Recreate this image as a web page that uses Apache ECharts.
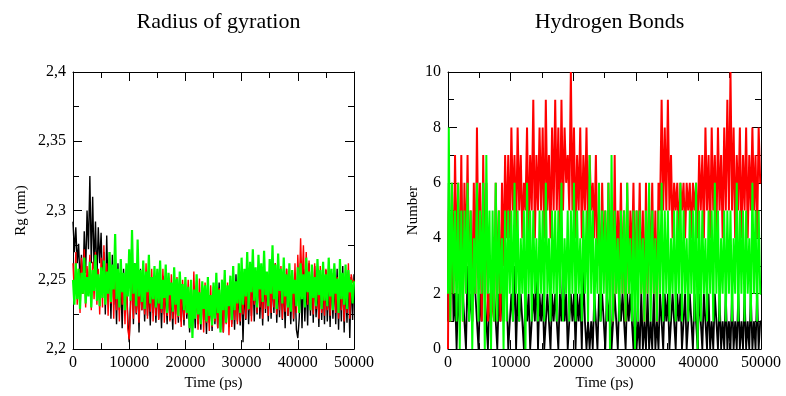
<!DOCTYPE html>
<html><head><meta charset="utf-8">
<script src="https://cdn.jsdelivr.net/npm/echarts@6/dist/echarts.min.js"></script>
<style>html,body{margin:0;padding:0;background:#fff}#c{width:786px;height:396px}</style>
</head><body><div id="c"></div>
<script>
// sampling grid: one frame every 250 ps, 0..50000 ps
const timeStep = 250;
const frameCount = 201;

const rgBlack = [
2.292,2.270,2.288,2.262,2.276,2.248,2.268,2.240,2.285,2.255,2.300,2.272,2.325,2.262,2.310,2.258,2.292,2.250,2.288,2.262,
2.284,2.245,2.270,2.225,2.282,2.238,2.262,2.222,2.268,2.232,2.255,2.218,2.262,2.228,2.250,2.215,2.258,2.226,2.248,2.222,
2.205,2.238,2.256,2.218,2.262,2.225,2.250,2.212,2.258,2.228,2.248,2.220,2.255,2.224,2.246,2.217,2.252,2.226,2.244,2.219,
2.250,2.222,2.246,2.215,2.253,2.225,2.243,2.218,2.249,2.221,2.240,2.214,2.248,2.225,2.242,2.219,2.255,2.220,2.241,2.217,
2.247,2.222,2.238,2.212,2.245,2.220,2.240,2.215,2.249,2.218,2.236,2.214,2.246,2.221,2.240,2.211,2.243,2.219,2.237,2.213,
2.245,2.218,2.240,2.215,2.248,2.214,2.238,2.212,2.246,2.219,2.241,2.216,2.250,2.218,2.243,2.214,2.254,2.220,2.242,2.217,
2.250,2.205,2.246,2.221,2.255,2.218,2.249,2.224,2.258,2.220,2.251,2.225,2.260,2.222,2.247,2.217,2.256,2.226,2.250,2.220,
2.258,2.222,2.252,2.226,2.262,2.219,2.248,2.223,2.255,2.221,2.250,2.215,2.258,2.224,2.246,2.218,2.254,2.220,2.248,2.214,
2.208,2.222,2.252,2.215,2.258,2.220,2.250,2.217,2.262,2.224,2.254,2.219,2.260,2.223,2.248,2.216,2.256,2.221,2.250,2.218,
2.257,2.220,2.249,2.216,2.255,2.222,2.251,2.218,2.258,2.214,2.252,2.220,2.260,2.212,2.250,2.219,2.256,2.208,2.252,2.221,2.254
];
const rgRed = [
2.262,2.238,2.270,2.232,2.258,2.226,2.266,2.240,2.272,2.230,2.260,2.244,2.268,2.228,2.263,2.236,2.270,2.232,2.258,2.225,
2.266,2.230,2.275,2.235,2.262,2.224,2.270,2.233,2.258,2.222,2.264,2.228,2.255,2.220,2.260,2.232,2.250,2.218,2.256,2.215,
2.207,2.230,2.252,2.222,2.258,2.226,2.248,2.219,2.256,2.228,2.250,2.225,2.262,2.222,2.254,2.227,2.258,2.220,2.252,2.224,
2.256,2.221,2.250,2.226,2.258,2.219,2.252,2.224,2.248,2.220,2.254,2.222,2.245,2.218,2.252,2.223,2.246,2.216,2.250,2.221,
2.244,2.225,2.250,2.220,2.242,2.218,2.256,2.222,2.246,2.214,2.251,2.220,2.243,2.212,2.248,2.219,2.240,2.213,2.246,2.216,
2.242,2.220,2.247,2.215,2.244,2.219,2.250,2.212,2.241,2.218,2.248,2.210,2.243,2.216,2.252,2.221,2.244,2.218,2.256,2.220,
2.247,2.225,2.254,2.222,2.262,2.228,2.250,2.220,2.258,2.232,2.252,2.226,2.260,2.230,2.248,2.222,2.256,2.229,2.250,2.224,
2.258,2.226,2.252,2.230,2.262,2.225,2.255,2.228,2.260,2.222,2.252,2.227,2.258,2.224,2.250,2.229,2.256,2.222,2.262,2.226,
2.268,2.240,2.280,2.245,2.275,2.238,2.270,2.232,2.264,2.228,2.258,2.225,2.262,2.229,2.256,2.222,2.260,2.226,2.252,2.224,
2.258,2.228,2.262,2.224,2.255,2.230,2.260,2.226,2.252,2.222,2.258,2.228,2.250,2.220,2.256,2.226,2.262,2.222,2.254,2.248,2.250
];
const rgGreen = [
2.250,2.232,2.262,2.236,2.258,2.229,2.255,2.240,2.266,2.233,2.252,2.238,2.263,2.230,2.257,2.242,2.268,2.235,2.254,2.231,
2.259,2.237,2.264,2.232,2.256,2.240,2.270,2.234,2.261,2.243,2.283,2.236,2.258,2.230,2.265,2.241,2.255,2.228,2.262,2.238,
2.272,2.235,2.286,2.240,2.262,2.231,2.279,2.238,2.257,2.234,2.264,2.229,2.256,2.241,2.268,2.233,2.252,2.236,2.260,2.230,
2.258,2.233,2.264,2.229,2.250,2.237,2.261,2.226,2.255,2.239,2.248,2.227,2.259,2.232,2.251,2.224,2.256,2.236,2.247,2.228,
2.252,2.226,2.245,2.215,2.250,2.208,2.243,2.222,2.254,2.225,2.241,2.218,2.249,2.229,2.246,2.220,2.252,2.224,2.239,2.217,
2.248,2.222,2.255,2.226,2.243,2.212,2.250,2.228,2.257,2.219,2.246,2.231,2.253,2.221,2.260,2.228,2.249,2.233,2.262,2.226,
2.266,2.232,2.258,2.238,2.270,2.229,2.263,2.241,2.272,2.235,2.259,2.230,2.268,2.243,2.262,2.234,2.271,2.239,2.256,2.231,
2.265,2.240,2.275,2.236,2.261,2.229,2.269,2.242,2.258,2.233,2.266,2.238,2.254,2.230,2.262,2.227,2.257,2.240,2.250,2.231,
2.259,2.226,2.262,2.236,2.254,2.230,2.266,2.241,2.256,2.228,2.261,2.237,2.252,2.231,2.265,2.239,2.257,2.229,2.263,2.235,
2.254,2.231,2.266,2.238,2.258,2.228,2.262,2.240,2.251,2.226,2.265,2.236,2.255,2.232,2.261,2.229,2.257,2.241,2.250,2.233,2.249
];

const hbBlack = [
1,6,2,5,1,2,0,2,1,6,2,1,0,3,1,2,1,5,2,1,
0,2,1,6,2,1,0,2,1,3,2,1,0,2,1,2,1,4,2,0,
1,2,1,3,0,2,1,2,1,0,2,1,2,0,1,2,1,3,0,2,
1,2,0,1,2,1,0,2,1,2,1,0,2,1,3,1,2,0,1,2,
1,2,0,2,1,2,0,3,1,0,1,0,1,0,2,1,0,2,1,2,
1,0,2,1,2,0,1,2,1,0,2,1,2,1,0,2,1,2,1,0,
2,0,1,0,2,0,1,0,2,0,1,0,2,0,1,0,2,1,0,2,
1,2,0,1,2,1,0,2,1,2,0,1,2,0,1,2,1,0,2,1,
0,2,1,0,2,1,0,2,0,1,0,2,1,0,2,0,1,0,2,0,
1,0,2,0,1,0,2,0,1,0,2,0,1,0,2,0,1,0,2,0,1
];
const hbRed = [
0,5,1,6,2,7,3,6,2,7,1,6,3,7,2,5,1,6,2,8,
3,6,1,7,2,6,1,2,1,2,1,6,2,5,1,6,3,7,4,7,
4,8,5,7,4,8,5,7,4,6,5,8,4,7,5,9,4,7,5,8,
5,8,4,9,5,7,4,8,5,9,5,8,4,9,5,8,6,7,5,10,
5,8,4,7,5,8,4,7,5,8,4,7,5,6,4,7,3,5,2,6,
3,5,2,6,3,5,1,7,2,5,3,6,2,5,1,6,2,5,3,6,
2,5,3,6,2,5,1,6,2,5,3,6,2,5,1,6,5,9,5,8,
5,9,5,7,4,6,5,6,4,6,5,6,4,6,5,6,4,6,5,6,
4,7,5,7,4,8,5,7,4,8,5,7,4,8,5,7,4,8,5,9,
5,10,5,8,4,7,5,8,4,7,5,8,4,7,5,8,5,7,4,8,6
];
const hbGreen = [
2,8,1,6,2,5,1,6,0,5,1,5,2,6,1,5,0,4,2,6,
1,5,2,6,0,7,2,5,0,5,1,6,1,5,2,4,0,5,1,5,
2,5,1,6,2,5,1,4,2,5,0,6,2,5,1,5,2,4,1,5,
2,5,1,6,2,4,1,5,2,5,1,5,2,6,1,4,2,5,1,5,
2,6,1,5,2,4,1,5,2,5,1,7,2,5,1,4,2,6,1,5,
2,5,1,6,0,7,1,5,2,4,1,5,2,5,1,6,2,4,1,5,
0,5,1,5,2,4,1,5,2,6,1,5,2,4,1,5,2,6,1,5,
2,5,1,4,2,5,1,5,2,6,1,5,2,4,1,5,2,5,1,6,
0,5,1,5,2,4,1,5,2,5,1,6,2,5,1,4,2,5,1,5,
2,5,1,4,2,6,1,5,2,5,1,5,2,4,1,6,2,5,1,5,2
];

const times = [];
for (let i = 0; i < frameCount; i++) times.push(i * timeStep);
const pair = vals => vals.map((v, i) => [times[i], v]);

const serif = 'Liberation Serif';
const grids = [
  {left: 73, top: 72, width: 281, height: 281},
  {left: 448, top: 72, width: 313, height: 281}
];
const tickCommon = {
  axisLine: {show: true, onZero: false, lineStyle: {color: '#000', width: 1}},
  axisTick: {show: true, inside: true, length: 9, lineStyle: {color: '#000'}},
  minorTick: {show: true, splitNumber: 2, length: 6, lineStyle: {color: '#000'}},
  splitLine: {show: false}, minorSplitLine: {show: false}
};
function xAxes(gi) {
  const base = Object.assign({gridIndex: gi, type: 'value', min: 0, max: 50000, interval: 10000}, tickCommon);
  return [
    Object.assign({}, base, {position: 'bottom', name: 'Time (ps)', nameLocation: 'middle', nameGap: 24,
      nameTextStyle: {fontFamily: serif, fontSize: 15, color: '#000'},
      axisLabel: {fontFamily: serif, fontSize: 16, color: '#000', margin: 6, formatter: v => String(v)}}),
    Object.assign({}, base, {position: 'top', axisLabel: {show: false}})
  ];
}
function yAxes(gi, min, max, interval, name, nameGap, fmt) {
  const base = Object.assign({gridIndex: gi, type: 'value', min: min, max: max, interval: interval}, tickCommon);
  return [
    Object.assign({}, base, {position: 'left', name: name, nameLocation: 'middle', nameGap: nameGap,
      nameTextStyle: {fontFamily: serif, fontSize: 15, color: '#000'},
      axisLabel: {fontFamily: serif, fontSize: 16, color: '#000', margin: 7, formatter: fmt}}),
    Object.assign({}, base, {position: 'right', axisLabel: {show: false}})
  ];
}
const xs = xAxes(0).concat(xAxes(1));
const ys = yAxes(0, 2.2, 2.4, 0.05, 'Rg (nm)', 44, v => String(+v.toFixed(3)).replace('.', ','))
  .concat(yAxes(1, 0, 10, 2, 'Number', 27, v => String(v)));

function lineSeries(data, color, xi, yi, step, w) {
  return {type: 'line', data: pair(data), xAxisIndex: xi, yAxisIndex: yi, showSymbol: false,
    symbol: 'none', step: step, lineStyle: {color: color, width: w}, silent: true, animation: false};
}

const chart = echarts.init(document.getElementById('c'));
chart.setOption({
  animation: false,
  backgroundColor: '#fff',
  title: [
    {text: 'Radius of gyration', left: 213.5, top: 6, textAlign: 'center',
      textStyle: {fontFamily: serif, fontSize: 22, fontWeight: 'normal', color: '#000'}},
    {text: 'Hydrogen Bonds', left: 604.5, top: 6, textAlign: 'center',
      textStyle: {fontFamily: serif, fontSize: 22, fontWeight: 'normal', color: '#000'}}
  ],
  grid: grids,
  xAxis: xs,
  yAxis: ys,
  series: [
    lineSeries(rgBlack, '#000000', 0, 0, false, 1.4),
    lineSeries(rgRed, '#ff0000', 0, 0, false, 1.4),
    lineSeries(rgGreen, '#00ff00', 0, 0, false, 2.2),
    lineSeries(hbBlack, '#000000', 2, 2, 'middle', 1.8),
    lineSeries(hbRed, '#ff0000', 2, 2, 'middle', 2),
    lineSeries(hbGreen, '#00ff00', 2, 2, 'middle', 2)
  ]
});
</script>
</body></html>
